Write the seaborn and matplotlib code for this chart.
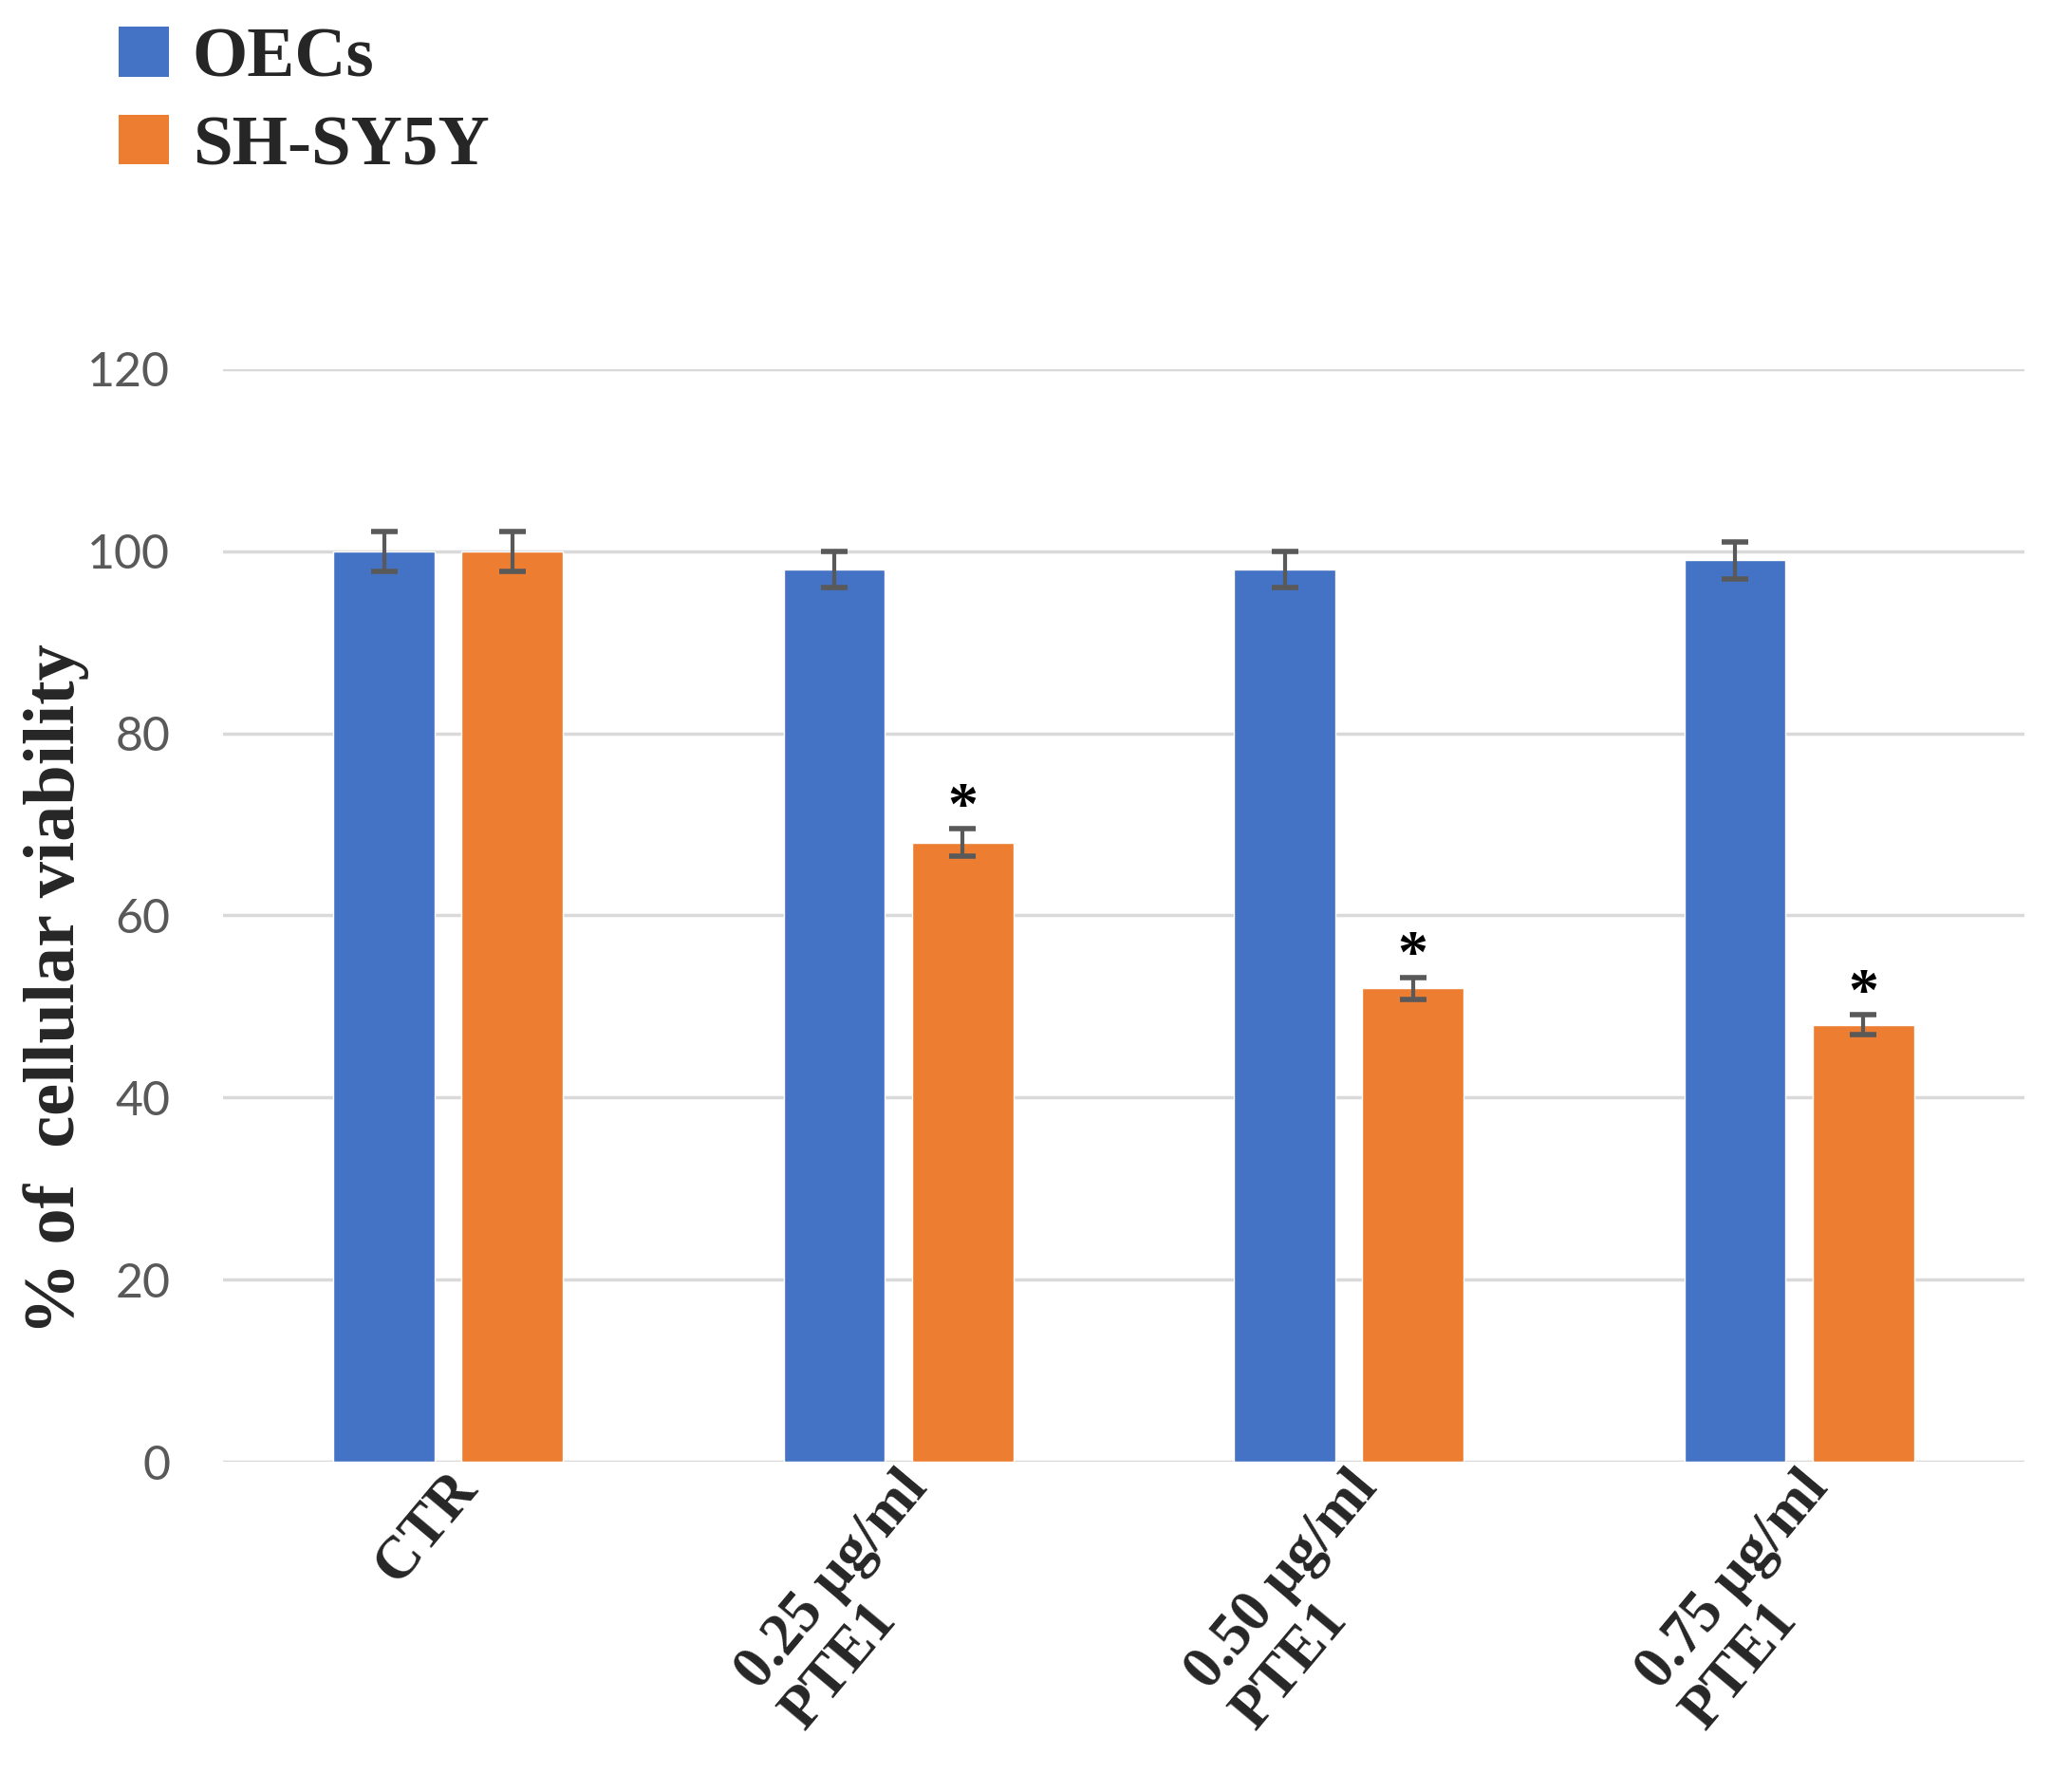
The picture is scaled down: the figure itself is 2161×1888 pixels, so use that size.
import numpy as np
import pandas as pd
import seaborn as sns
import matplotlib.pyplot as plt
from matplotlib.patches import Patch
from matplotlib.transforms import ScaledTranslation

# values
categories = ["CTR", "0.25 µg/ml\nPTE1", "0.50 µg/ml\nPTE1", "0.75 µg/ml\nPTE1"]
groups = ["OECs", "SH-SY5Y"]
oecs = [100, 98, 98, 99]
shsy5y = [100, 68, 52, 48]
oecs_err = [2.2, 2.0, 2.0, 2.0]
shsy5y_err = [2.2, 1.5, 1.2, 1.1]
significant = [False, True, True, True]  # asterisk over SH-SY5Y bar
yticks = [0, 20, 40, 60, 80, 100, 120]

colors = {"OECs": "#4472C4", "SH-SY5Y": "#ED7D31"}

df = pd.DataFrame({
    "condition": categories * 2,
    "cells": ["OECs"] * 4 + ["SH-SY5Y"] * 4,
    "viability": oecs + shsy5y,
})

sns.set_style("white")
plt.rcParams["font.family"] = ["Liberation Serif", "DejaVu Serif"]

fig = plt.figure(figsize=(21.61, 18.88), dpi=100)
ax = fig.add_axes([0.1087, 0.1843, 0.8783, 0.6097])

sns.barplot(data=df, x="condition", y="viability", hue="cells", order=categories,
            hue_order=groups, palette=colors, width=0.57, gap=0.21, saturation=1,
            errorbar=None, legend=False, ax=ax, zorder=3)

# error bars on top of the bars, from each container's bar centres
for cont, errs, vals in zip(ax.containers, [oecs_err, shsy5y_err], [oecs, shsy5y]):
    xs = [p.get_x() + p.get_width() / 2 for p in cont.patches]
    ax.errorbar(xs, vals, yerr=errs, fmt="none", ecolor="#595959", elinewidth=3,
                capsize=10, capthick=4, zorder=4)
    last_xs = xs

# asterisks over the significant SH-SY5Y bars
for x, v, e, s in zip(last_xs, shsy5y, shsy5y_err, significant):
    if s:
        ax.text(x, v + e - 0.9, "*", ha="center", va="bottom", fontsize=46,
                fontweight="bold", color="black", zorder=5)

ax.set_xlim(-0.5, len(categories) - 0.5)
ax.set_ylim(0, 120)
ax.set_yticks(yticks)
ax.yaxis.grid(True, color="#d9d9d9", linewidth=2.5, zorder=0)
ax.xaxis.grid(False)
for sp in ax.spines.values():
    sp.set_visible(False)

ax.tick_params(axis="y", length=0, pad=40, labelsize=36, labelcolor="#595959")
for lab in ax.get_yticklabels():
    lab.set_family(["Lato", "DejaVu Sans"])

ax.set_xlabel("")
ax.set_xticks(range(len(categories)))
ax.set_xticklabels(categories, rotation=50, ha="right", va="top", rotation_mode="anchor",
                   multialignment="left", linespacing=1.15, fontsize=45, fontweight="bold")
ax.tick_params(axis="x", length=0, pad=0)
offset = ScaledTranslation(-0.02, 0.0, fig.dpi_scale_trans)
for lab in ax.get_xticklabels():
    lab.set_transform(lab.get_transform() + offset)

ax.set_ylabel("% of  cellular viability", fontsize=55, fontweight="bold")
ax.yaxis.set_label_coords(-0.074, 0.433)

handles = [Patch(facecolor=colors[g], edgecolor="none") for g in groups]
fig.legend(handles, groups, loc="upper left", bbox_to_anchor=(0.058, 0.985), frameon=False,
           prop={"family": "Liberation Serif", "weight": "bold", "size": 54},
           handlelength=0.7, handleheight=0.7, handletextpad=0.33, labelspacing=0.32,
           borderpad=0, borderaxespad=0)

fig.savefig("out.png", dpi=100, facecolor="white")
